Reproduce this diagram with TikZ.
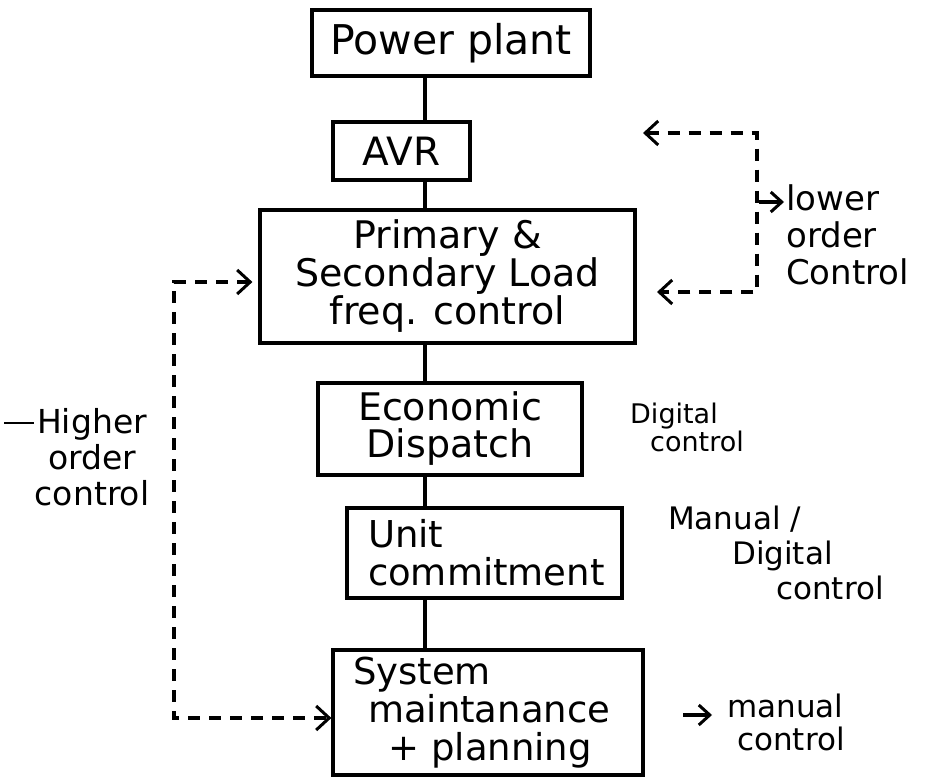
\documentclass[tikz,border=0pt]{standalone}
\usepackage{fontspec}
\setmainfont{DejaVu Sans}
\usetikzlibrary{arrows.meta,calc}
\begin{document}
\begin{tikzpicture}[x=1pt,y=-1pt,
  box/.style={draw, line width=3.2pt, inner sep=0pt, align=center,
    font=\fontsize{37}{38}\selectfont},
  link/.style={line width=3.2pt},
  barb/.style={-{Straight Barb[length=11pt,width=20pt,line width=3pt]}},
  dlink/.style={line width=3.2pt, dash pattern=on 12pt off 9pt,
    {Straight Barb[length=13pt,width=24pt,line width=3pt]}-{Straight Barb[length=13pt,width=24pt,line width=3pt]}},
  lbl/.style={inner sep=0pt, font=\fontsize{32}{36}\selectfont},
]
\fill[white] (0,0) rectangle (935,781);
\useasboundingbox (0,0) rectangle (935,781);

% boxes
\node[box, minimum width=278pt, minimum height=66pt, font=\fontsize{41}{42}\selectfont] (pp) at (451,43) {Power plant};
\node[box, minimum width=137pt, minimum height=58pt, font=\fontsize{39}{40}\selectfont] (avr) at (401.5,151) {AVR};
\node[box, minimum width=375pt, minimum height=133pt, font=\fontsize{38}{38}\selectfont] (lfc) at (447.5,276.5)
  {Primary \&\\Secondary Load\\freq. control};
\node[box, minimum width=264pt, minimum height=92pt, font=\fontsize{38}{37}\selectfont] (ed) at (450,429)
  {Economic\\Dispatch};
\node[box, minimum width=275pt, minimum height=90pt, align=left,
  text width=233pt, inner xsep=21pt] (uc) at (484.5,553)
  {Unit\\commitment};
\node[box, minimum width=310pt, minimum height=125pt, align=left,
  text width=270pt, inner xsep=20pt] (sm) at (488,712.5)
  {System\\\hspace*{15pt}maintanance\\\hspace*{35pt}+ planning};

% spine connectors
\coordinate (spine) at (425,0);
\draw[link] (pp.south -| spine) -- (avr.north -| spine);
\draw[link] (avr.south -| spine) -- (lfc.north -| spine);
\draw[link] (lfc.south -| spine) -- (ed.north -| spine);
\draw[link] (ed.south -| spine) -- (uc.north -| spine);
\draw[link] (uc.south -| spine) -- (sm.north -| spine);

% lower order loop (right)
\coordinate (rtip1) at (643,133);
\coordinate (rc1) at (757,133);
\coordinate (rc2) at (757,292);
\coordinate (rtip2) at (657,292);
\draw[dlink] (rtip1) -- (rc1) -- (rc2) -- (rtip2);

% higher order loop (left)
\coordinate (ltip1) at ($(lfc.west |- 0,282)+(-6,0)$);
\coordinate (lc1) at (174,282);
\coordinate (lc2) at (174,718);
\coordinate (ltip2) at (sm.west |- 0,718);
\draw[dlink] (ltip1) -- (lc1) -- (lc2) -- (ltip2);

% labels
\node[lbl, anchor=north west, align=left, font=\fontsize{34}{37}\selectfont] (lowlbl) at (786,184)
  {lower\\order\\Control};
\coordinate (lowa) at (759,202);
\coordinate (lowb) at (784,202);
\draw[link, barb] (lowa) -- (lowb);

\node[lbl, align=center, font=\fontsize{33}{36}\selectfont] (hilbl) at (92,457) {Higher\\order\\control};
\coordinate (hd1) at (4,423);
\coordinate (hd2) at (34,423);
\draw[line width=2.6pt] (hd1) -- (hd2);

\node[lbl, anchor=north west, align=left, font=\fontsize{27}{28}\selectfont] (dig) at (630,403)
  {Digital\\\hspace*{20pt}control};

\node[lbl, anchor=north west, align=left, font=\fontsize{31}{35}\selectfont] (mdig) at (668,506)
  {Manual /\\\hspace*{64pt}Digital\\\hspace*{108pt}control};

\node[lbl, anchor=north west, align=left, font=\fontsize{31}{33}\selectfont] (man) at (727,694)
  {manual\\\hspace*{10pt}control};
\coordinate (mana) at (683,715);
\coordinate (manb) at (712,715);
\draw[link, barb] (mana) -- (manb);
\end{tikzpicture}
\end{document}
